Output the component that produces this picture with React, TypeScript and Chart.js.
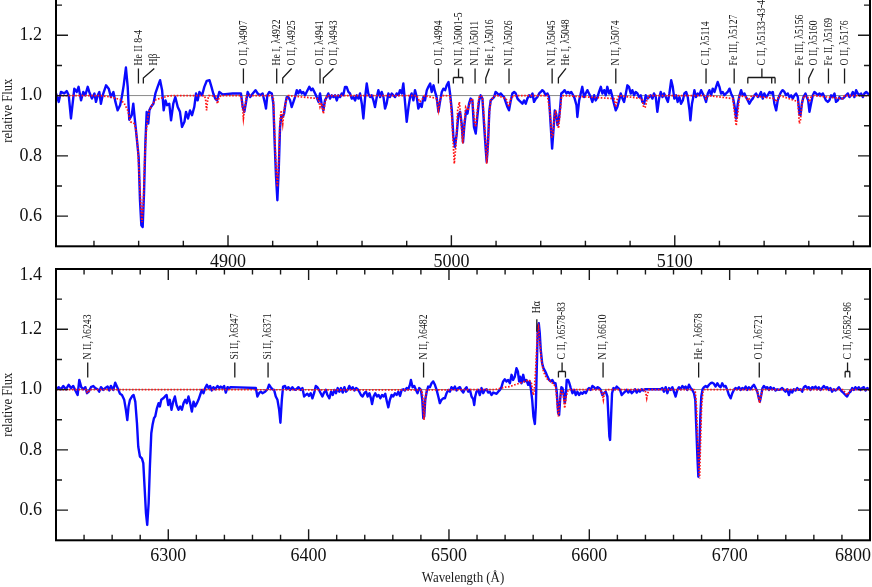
import React, { useEffect, useRef } from "react";
import { Chart, registerables } from "chart.js";

Chart.register(...registerables);

const FONT = '"Liberation Serif", "Times New Roman", serif';

type Pt = [number, number];

// ---------- x / y ranges and tick labels ----------
const topRange: [number, number] = [4823, 5187.4];
const botRange: [number, number] = [6220, 6800];
const fluxRange: [number, number] = [0.5, 1.4];
const topXTicks = [4900, 5000, 5100];
const botXTicks = [6300, 6400, 6500, 6600, 6700, 6800];
const yTicks = [0.6, 0.8, 1.0, 1.2, 1.4];

// ---------- observed spectrum, top panel (wavelength Å, relative flux) ----------
const topObserved: Pt[] = [
  [4823.0, 1.007], [4824.2, 0.979], [4825.2, 1.012], [4826.7, 1.007], [4827.8, 1.015], [4828.7, 1.001],
  [4829.7, 0.924], [4831.2, 1.023], [4832.3, 1.012], [4833.1, 1.029], [4834.2, 0.984], [4835.2, 1.012],
  [4836.1, 1.001], [4837.2, 1.029], [4837.9, 1.012], [4839.1, 0.99], [4840.2, 1.007], [4840.9, 0.979],
  [4841.7, 1.001], [4842.4, 1.012], [4843.1, 0.973], [4843.9, 1.001], [4845.4, 1.034], [4846.6, 1.023],
  [4847.6, 0.995], [4848.7, 1.012], [4849.6, 0.979], [4850.6, 0.951], [4851.7, 0.968], [4852.6, 1.001],
  [4853.3, 1.034], [4854.3, 1.093], [4855.1, 1.029], [4855.8, 0.92], [4856.9, 0.935], [4857.6, 0.973],
  [4858.4, 0.913], [4859.1, 0.863], [4860.0, 0.796], [4860.6, 0.653], [4861.2, 0.57], [4861.8, 0.564],
  [4862.4, 0.675], [4863.0, 0.841], [4863.6, 0.946], [4864.3, 0.907], [4864.8, 0.951], [4865.5, 0.962],
  [4866.6, 0.973], [4867.5, 1.007], [4868.5, 1.029], [4869.6, 1.051], [4870.5, 1.018], [4871.2, 0.951],
  [4872.0, 0.984], [4872.7, 0.968], [4873.7, 0.973], [4874.5, 0.918], [4875.5, 0.973], [4876.4, 0.995],
  [4877.5, 0.962], [4878.5, 0.946], [4879.4, 0.896], [4880.5, 0.913], [4881.2, 0.946], [4882.1, 0.924],
  [4883.0, 0.951], [4883.9, 0.935], [4884.9, 0.962], [4885.7, 1.007], [4886.4, 0.984], [4887.2, 1.012],
  [4888.4, 1.001], [4889.4, 1.029], [4890.5, 1.049], [4891.7, 1.051], [4892.6, 1.029], [4893.4, 1.007],
  [4894.3, 0.99], [4895.1, 0.984], [4896.1, 1.012], [4897.0, 1.007], [4897.6, 1.004], [4902.1, 1.007],
  [4905.8, 1.007], [4906.6, 0.962], [4907.3, 0.946], [4908.1, 0.979], [4908.8, 1.012], [4909.9, 0.995],
  [4911.1, 1.007], [4912.3, 1.018], [4913.3, 1.007], [4914.3, 1.001], [4915.5, 1.007], [4916.6, 0.973],
  [4917.0, 0.957], [4917.6, 1.001], [4918.5, 1.012], [4919.6, 1.007], [4920.3, 0.973], [4920.9, 0.841],
  [4921.5, 0.73], [4922.1, 0.653], [4922.7, 0.752], [4923.3, 0.896], [4923.9, 0.935], [4924.5, 0.929],
  [4925.1, 0.94], [4925.7, 0.973], [4926.3, 0.995], [4927.0, 0.995], [4927.8, 0.984], [4928.5, 0.962],
  [4929.3, 0.979], [4930.0, 0.995], [4930.8, 1.018], [4931.5, 1.007], [4932.2, 1.018], [4933.0, 1.007],
  [4933.7, 1.012], [4934.5, 1.001], [4935.2, 1.012], [4936.4, 1.029], [4937.2, 1.018], [4937.9, 1.023],
  [4939.0, 1.007], [4939.7, 0.995], [4940.5, 0.979], [4941.2, 1.007], [4941.9, 0.973], [4942.7, 0.951],
  [4943.4, 0.984], [4944.2, 0.995], [4944.9, 1.007], [4945.7, 0.99], [4946.4, 1.001], [4947.2, 0.995],
  [4947.9, 1.001], [4948.7, 0.984], [4949.4, 1.001], [4950.2, 0.995], [4950.9, 1.007], [4951.6, 1.001],
  [4952.4, 1.029], [4953.1, 1.029], [4953.9, 1.012], [4954.6, 1.007], [4955.4, 0.99], [4956.1, 0.995],
  [4956.9, 0.984], [4957.6, 1.001], [4958.4, 0.99], [4959.1, 1.007], [4959.9, 0.973], [4960.6, 0.924],
  [4961.4, 0.995], [4962.1, 1.04], [4962.8, 1.007], [4963.6, 0.995], [4964.3, 1.001], [4965.1, 0.984],
  [4965.8, 0.962], [4966.6, 0.995], [4967.3, 1.018], [4968.1, 0.995], [4968.8, 1.012], [4969.6, 0.995],
  [4970.3, 0.957], [4971.0, 0.973], [4971.8, 1.007], [4972.5, 0.995], [4973.3, 1.007], [4974.0, 1.001],
  [4974.8, 0.995], [4975.5, 1.007], [4976.3, 1.001], [4977.0, 1.018], [4977.8, 1.007], [4978.5, 1.04],
  [4979.3, 0.973], [4980.0, 0.913], [4980.8, 0.962], [4981.5, 0.995], [4982.2, 1.007], [4983.0, 0.984],
  [4983.7, 1.018], [4984.5, 0.995], [4985.2, 0.957], [4986.0, 0.973], [4986.7, 0.962], [4987.5, 0.995],
  [4988.2, 0.984], [4989.0, 1.018], [4989.7, 1.029], [4990.5, 1.04], [4991.2, 1.012], [4992.0, 1.034],
  [4992.7, 1.012], [4993.4, 0.995], [4994.2, 0.946], [4994.9, 0.979], [4995.7, 1.012], [4996.4, 1.023],
  [4997.2, 1.018], [4997.9, 1.034], [4998.7, 1.045], [4999.4, 1.007], [5000.2, 0.951], [5000.9, 0.863],
  [5001.6, 0.83], [5002.4, 0.874], [5003.1, 0.935], [5003.9, 0.946], [5004.6, 0.907], [5005.2, 0.845],
  [5005.8, 0.9], [5006.6, 0.951], [5007.2, 0.94], [5007.9, 0.973], [5008.6, 0.99], [5009.4, 0.984],
  [5010.1, 0.896], [5010.9, 0.874], [5011.6, 0.929], [5012.4, 0.984], [5013.1, 1.001], [5013.9, 0.99],
  [5014.6, 0.907], [5015.4, 0.819], [5015.8, 0.78], [5016.4, 0.841], [5017.0, 0.951], [5017.6, 0.984],
  [5018.4, 0.99], [5019.1, 0.995], [5019.8, 1.012], [5020.6, 1.007], [5021.3, 1.001], [5022.1, 1.007],
  [5022.8, 1.001], [5023.6, 0.995], [5024.3, 0.979], [5025.1, 0.962], [5025.8, 0.951], [5026.6, 0.984],
  [5027.3, 1.007], [5028.1, 1.012], [5028.8, 1.007], [5029.6, 0.99], [5030.3, 0.984], [5031.0, 0.979],
  [5031.8, 0.973], [5032.5, 0.984], [5033.3, 0.973], [5034.0, 0.99], [5034.8, 1.001], [5035.5, 0.995],
  [5036.3, 1.007], [5037.0, 0.979], [5037.8, 0.99], [5038.5, 0.995], [5039.3, 1.007], [5040.0, 1.012],
  [5040.7, 1.018], [5041.5, 1.012], [5042.2, 1.001], [5043.0, 1.007], [5043.7, 0.995], [5044.5, 0.896],
  [5045.1, 0.824], [5045.7, 0.885], [5046.3, 0.951], [5046.9, 0.94], [5047.5, 0.902], [5048.1, 0.918],
  [5048.7, 0.962], [5049.2, 1.007], [5050.0, 1.012], [5050.7, 1.018], [5051.5, 1.007], [5052.2, 1.012],
  [5053.0, 1.007], [5053.7, 1.012], [5054.5, 1.001], [5055.2, 0.99], [5056.0, 0.968], [5056.4, 0.929],
  [5057.2, 0.984], [5057.9, 1.007], [5058.6, 1.029], [5059.4, 0.995], [5060.1, 1.007], [5060.9, 1.018],
  [5061.6, 1.007], [5062.4, 0.995], [5063.1, 0.979], [5063.9, 1.001], [5064.6, 0.984], [5065.4, 0.995],
  [5066.1, 1.012], [5066.9, 1.029], [5067.6, 1.007], [5068.4, 1.018], [5069.1, 1.001], [5069.8, 1.029],
  [5070.6, 1.007], [5071.3, 1.018], [5072.1, 0.995], [5072.8, 0.973], [5073.6, 0.951], [5074.3, 0.962],
  [5075.1, 0.984], [5075.8, 1.007], [5076.6, 0.99], [5077.3, 0.979], [5078.1, 1.007], [5078.8, 1.034],
  [5079.5, 1.029], [5080.3, 1.007], [5081.0, 1.018], [5081.8, 1.001], [5082.5, 1.012], [5083.3, 1.007],
  [5084.0, 0.995], [5084.8, 1.001], [5085.5, 0.979], [5086.3, 0.973], [5087.0, 1.001], [5087.8, 0.99],
  [5088.5, 0.995], [5089.2, 1.001], [5090.0, 0.99], [5090.7, 1.007], [5091.5, 0.995], [5092.2, 0.946],
  [5093.0, 0.99], [5093.7, 1.012], [5094.5, 0.995], [5095.2, 1.007], [5096.0, 0.995], [5096.9, 0.979],
  [5097.6, 1.007], [5098.4, 1.051], [5099.1, 1.029], [5099.8, 0.99], [5100.6, 1.001], [5101.3, 0.979],
  [5102.1, 0.995], [5102.8, 0.973], [5103.6, 0.984], [5104.3, 1.007], [5105.1, 1.012], [5105.8, 0.995],
  [5106.6, 0.951], [5107.0, 0.918], [5107.7, 0.973], [5108.3, 0.995], [5108.8, 1.018], [5109.5, 0.995],
  [5110.3, 1.007], [5111.0, 1.001], [5111.8, 1.018], [5112.5, 1.007], [5113.3, 0.995], [5114.0, 0.979],
  [5114.8, 1.007], [5115.5, 1.018], [5116.3, 1.001], [5117.0, 1.023], [5117.8, 1.012], [5118.5, 1.029],
  [5119.2, 1.045], [5120.0, 1.029], [5120.7, 1.007], [5121.5, 1.012], [5122.2, 1.001], [5123.0, 1.007],
  [5123.7, 1.012], [5124.5, 1.023], [5125.2, 1.007], [5126.0, 0.995], [5126.7, 0.968], [5127.5, 0.924],
  [5128.2, 0.973], [5129.0, 1.001], [5129.7, 1.018], [5130.4, 1.001], [5131.2, 1.007], [5131.9, 0.995],
  [5132.7, 0.984], [5133.4, 0.973], [5134.2, 0.984], [5134.9, 0.99], [5135.7, 1.001], [5136.4, 1.007],
  [5137.2, 0.995], [5137.9, 1.001], [5138.6, 1.012], [5139.4, 0.99], [5140.1, 1.007], [5140.9, 0.995],
  [5141.6, 1.001], [5142.4, 1.012], [5143.1, 1.007], [5143.9, 1.012], [5144.6, 0.973], [5145.4, 0.951],
  [5146.1, 0.984], [5146.9, 1.001], [5147.6, 1.012], [5148.3, 1.018], [5149.1, 1.012], [5149.8, 1.001],
  [5150.6, 1.007], [5151.3, 0.995], [5152.1, 1.001], [5152.8, 0.99], [5153.6, 1.001], [5154.3, 1.007],
  [5155.1, 0.995], [5155.8, 0.94], [5156.3, 0.935], [5156.9, 0.973], [5157.6, 0.995], [5158.5, 1.007],
  [5159.1, 0.995], [5159.7, 0.984], [5160.3, 0.946], [5161.0, 0.973], [5161.8, 1.001], [5162.5, 1.012],
  [5163.3, 1.007], [5164.0, 1.001], [5164.8, 1.007], [5165.5, 1.001], [5166.3, 1.007], [5167.0, 0.995],
  [5167.7, 0.984], [5168.5, 0.979], [5169.2, 0.984], [5170.0, 1.001], [5170.7, 0.995], [5171.5, 1.007],
  [5172.2, 0.979], [5173.0, 0.984], [5173.7, 0.995], [5174.5, 0.99], [5175.2, 0.99], [5176.0, 0.995],
  [5176.7, 1.001], [5177.5, 1.007], [5178.2, 0.995], [5179.0, 1.001], [5179.7, 1.012], [5180.4, 0.995],
  [5181.2, 1.018], [5181.9, 1.007], [5182.7, 1.001], [5183.4, 1.007], [5184.2, 0.995], [5184.9, 1.007],
  [5185.7, 1.012], [5186.4, 1.007], [5187.2, 1.001],
];

// ---------- model spectrum, top panel ----------
const topModel: Pt[] = [
  [4823, 1.0], [4843, 1.0], [4847.6, 0.995], [4851.7, 0.987], [4853.5, 0.975], [4855.1, 0.951],
  [4856.4, 0.913], [4858.1, 0.907], [4858.8, 0.885], [4859.6, 0.83], [4860.3, 0.73], [4861.1, 0.62],
  [4861.5, 0.58], [4862.1, 0.642], [4862.7, 0.785], [4863.3, 0.874], [4864.0, 0.924], [4864.8, 0.951],
  [4866.3, 0.973], [4867.8, 0.987], [4869.3, 0.99], [4870.8, 0.993], [4873.0, 0.998], [4875.2, 1.0],
  [4889.5, 1.0], [4890.0, 0.985], [4890.4, 0.951], [4890.9, 0.985], [4891.4, 1.0], [4894.5, 0.998],
  [4895.3, 0.973], [4896.0, 0.995], [4897, 1.0], [4905.9, 1.0], [4906.5, 0.96], [4906.9, 0.924],
  [4907.5, 0.96], [4908.3, 1.0], [4919.6, 1.0], [4920.3, 0.99], [4920.9, 0.87], [4921.5, 0.76],
  [4922.1, 0.697], [4922.7, 0.78], [4923.3, 0.92], [4923.8, 0.951], [4924.5, 0.906], [4925.1, 0.95],
  [4925.7, 0.975], [4927.0, 1.0], [4940.4, 0.99], [4941.2, 0.962], [4941.9, 0.975], [4942.7, 0.94],
  [4943.4, 0.975], [4944.2, 1.0], [4984.5, 1.0], [4985.8, 0.979], [4987.2, 0.99], [4988, 1.0],
  [4993.4, 0.99], [4994.2, 0.951], [4995.0, 0.99], [4996, 1.0], [4999.4, 0.999], [5000.2, 0.924],
  [5000.9, 0.83], [5001.3, 0.774], [5002.1, 0.841], [5002.8, 0.951], [5003.6, 0.979], [5004.4, 0.907],
  [5005.1, 0.841], [5005.7, 0.9], [5006.4, 0.962], [5007.4, 0.95], [5008.6, 0.984], [5009.4, 0.99],
  [5010.4, 0.907], [5010.9, 0.896], [5011.6, 0.951], [5012.4, 0.995], [5013.1, 1.0], [5013.9, 0.995],
  [5014.6, 0.929], [5015.4, 0.841], [5015.8, 0.774], [5016.4, 0.83], [5017.0, 0.94], [5017.6, 0.984],
  [5019.1, 0.998], [5020.6, 1.0], [5024.5, 0.99], [5025.8, 0.962], [5026.6, 0.99], [5028, 1.0],
  [5043.0, 1.0], [5044.2, 0.94], [5044.9, 0.863], [5045.4, 0.863], [5046.0, 0.929], [5046.7, 0.951],
  [5047.5, 0.907], [5048.0, 0.891], [5048.6, 0.94], [5049.3, 0.995], [5050, 1.0], [5072.8, 0.99],
  [5073.6, 0.962], [5074.3, 0.99], [5075, 1.0], [5085.3, 0.99], [5086.1, 0.96], [5086.8, 0.962],
  [5087.5, 0.984], [5088.5, 1.0], [5113.2, 1.0], [5114.0, 0.99], [5115, 1.0], [5126.0, 0.99],
  [5126.8, 0.94], [5127.5, 0.9], [5128.2, 0.94], [5129, 1.0], [5132.0, 0.995], [5132.7, 0.984],
  [5133.4, 0.99], [5134.5, 1.0], [5144.6, 0.99], [5145.4, 0.979], [5146.1, 0.99], [5147, 1.0],
  [5155.1, 0.98], [5155.8, 0.907], [5156.3, 0.92], [5157.0, 0.98], [5158, 1.0], [5159.5, 0.995],
  [5160.3, 0.979], [5161.0, 0.995], [5162, 1.0], [5175.2, 0.99], [5176, 1.0], [5188, 1.0],
];

// ---------- observed spectrum, bottom panel ----------
const botObserved: Pt[] = [
  [6220.0, 0.999], [6221.9, 1.008], [6223.6, 1.001], [6225.2, 1.012], [6227.1, 1.001], [6229.0, 1.016],
  [6230.7, 1.005], [6232.3, 1.012], [6233.8, 0.997], [6235.4, 0.982], [6236.6, 1.032], [6238.0, 1.008],
  [6239.5, 1.001], [6240.9, 1.008], [6242.1, 0.988], [6243.3, 0.993], [6244.9, 1.008], [6246.6, 1.012],
  [6248.0, 1.005], [6249.7, 1.001], [6250.8, 0.993], [6252.0, 1.008], [6253.7, 0.999], [6255.1, 1.005],
  [6256.8, 1.01], [6258.0, 0.997], [6259.1, 1.012], [6260.8, 0.999], [6262.2, 1.023], [6263.9, 1.005],
  [6265.6, 0.986], [6267.0, 0.982], [6268.6, 0.966], [6269.8, 0.933], [6270.8, 0.899], [6271.7, 0.944],
  [6272.7, 0.966], [6274.1, 0.977], [6275.3, 0.982], [6276.5, 0.96], [6277.7, 0.888], [6278.6, 0.811],
  [6279.8, 0.778], [6281.2, 0.772], [6282.2, 0.756], [6283.1, 0.678], [6284.1, 0.59], [6285.0, 0.551],
  [6286.0, 0.623], [6286.9, 0.745], [6287.9, 0.855], [6288.8, 0.883], [6289.8, 0.905], [6290.7, 0.911],
  [6291.9, 0.938], [6293.1, 0.955], [6294.0, 0.944], [6295.0, 0.966], [6296.4, 0.971], [6297.6, 0.977],
  [6298.8, 0.982], [6300.0, 0.949], [6301.1, 0.966], [6302.3, 0.933], [6303.5, 0.96], [6304.7, 0.977],
  [6305.9, 0.949], [6307.3, 0.933], [6308.5, 0.944], [6309.7, 0.933], [6310.9, 0.955], [6312.1, 0.966],
  [6313.2, 0.955], [6314.4, 0.977], [6315.6, 0.955], [6316.8, 0.927], [6318.0, 0.96], [6319.2, 0.944],
  [6320.4, 0.955], [6321.5, 0.966], [6322.7, 0.982], [6323.9, 0.999], [6325.1, 0.988], [6326.3, 1.005],
  [6327.5, 1.016], [6328.7, 1.005], [6329.8, 1.012], [6331.0, 0.997], [6332.2, 1.008], [6333.4, 1.001],
  [6335.1, 1.012], [6336.3, 1.005], [6337.4, 1.01], [6338.6, 1.005], [6339.8, 1.012], [6341.0, 0.99],
  [6342.2, 1.008], [6343.4, 1.005], [6344.6, 1.008], [6362.4, 1.005], [6363.5, 0.977], [6364.7, 0.988],
  [6365.9, 0.993], [6367.1, 0.988], [6369.0, 0.993], [6370.7, 1.001], [6371.8, 1.016], [6373.0, 1.008],
  [6374.2, 1.001], [6375.4, 0.999], [6376.6, 0.977], [6377.8, 0.966], [6379.0, 0.933], [6379.9, 0.89],
  [6380.9, 0.966], [6381.8, 1.01], [6383.2, 1.012], [6384.2, 1.001], [6385.6, 1.008], [6386.8, 0.999],
  [6388.4, 1.008], [6389.6, 1.001], [6390.8, 0.999], [6392.7, 1.008], [6394.4, 0.999], [6395.6, 1.005],
  [6396.8, 0.977], [6397.9, 0.982], [6399.1, 0.986], [6400.3, 0.979], [6401.5, 0.988], [6402.7, 0.971],
  [6403.9, 0.988], [6405.1, 1.012], [6406.2, 1.008], [6407.4, 0.999], [6408.6, 0.988], [6409.8, 0.977],
  [6411.0, 0.99], [6412.2, 0.999], [6413.4, 0.982], [6414.8, 0.971], [6416.0, 0.993], [6417.2, 0.982],
  [6418.3, 0.999], [6419.5, 0.988], [6420.7, 1.005], [6421.9, 0.993], [6423.1, 1.005], [6424.3, 0.99],
  [6425.5, 1.008], [6426.6, 0.993], [6427.8, 0.999], [6429.0, 1.012], [6430.2, 1.001], [6431.4, 1.008],
  [6432.6, 0.997], [6433.8, 1.005], [6435.0, 1.001], [6436.1, 0.993], [6437.3, 0.982], [6438.5, 0.977],
  [6439.7, 0.988], [6440.9, 0.993], [6442.1, 0.977], [6443.3, 0.988], [6444.4, 0.971], [6445.2, 0.952],
  [6446.3, 0.977], [6447.5, 0.988], [6448.7, 0.977], [6449.9, 0.982], [6451.1, 0.971], [6452.3, 0.982],
  [6453.5, 0.977], [6454.6, 0.986], [6455.8, 0.96], [6456.8, 0.941], [6457.9, 0.966], [6459.1, 0.982],
  [6460.3, 0.977], [6461.5, 0.988], [6462.7, 0.982], [6463.9, 0.993], [6465.1, 0.979], [6466.3, 0.999],
  [6467.5, 1.001], [6468.6, 0.997], [6469.8, 1.005], [6471.0, 1.001], [6472.2, 1.016], [6472.9, 1.032],
  [6474.1, 1.008], [6475.3, 1.012], [6476.5, 0.999], [6477.6, 0.988], [6478.8, 1.005], [6480.0, 0.999],
  [6481.0, 0.966], [6481.7, 0.905], [6482.4, 0.911], [6483.1, 0.966], [6484.1, 0.993], [6485.2, 1.01],
  [6486.4, 1.008], [6487.6, 1.021], [6488.8, 1.027], [6490.0, 1.016], [6491.2, 0.999], [6492.4, 0.977],
  [6493.5, 0.955], [6494.7, 0.966], [6495.9, 0.971], [6497.1, 0.971], [6498.3, 0.988], [6499.5, 0.999],
  [6500.7, 0.993], [6501.8, 1.008], [6503.0, 1.001], [6504.2, 1.01], [6505.4, 0.997], [6506.6, 1.005],
  [6507.8, 1.008], [6509.0, 0.997], [6510.2, 0.99], [6511.3, 1.001], [6512.5, 1.008], [6513.7, 0.993],
  [6514.9, 0.999], [6516.1, 0.977], [6517.3, 0.968], [6518.0, 0.949], [6518.7, 0.977], [6519.6, 0.993],
  [6520.8, 0.999], [6522.0, 0.982], [6523.2, 1.005], [6524.4, 0.988], [6525.6, 0.999], [6526.8, 1.001],
  [6527.9, 0.99], [6529.1, 0.993], [6530.3, 0.982], [6531.5, 0.99], [6532.7, 0.988], [6533.9, 0.986],
  [6535.1, 0.993], [6536.3, 0.999], [6537.4, 1.008], [6538.6, 1.027], [6539.8, 1.034], [6541.0, 1.027],
  [6542.2, 1.032], [6543.4, 1.021], [6544.6, 1.049], [6545.7, 1.032], [6546.9, 1.043], [6548.1, 1.071],
  [6549.1, 1.06], [6550.0, 1.027], [6550.7, 1.043], [6551.7, 1.021], [6552.9, 1.049], [6554.0, 1.027],
  [6555.2, 1.032], [6556.4, 1.016], [6557.4, 1.027], [6558.3, 1.005], [6559.3, 0.966], [6560.2, 0.911],
  [6561.2, 0.886], [6561.9, 0.944], [6562.6, 1.076], [6563.3, 1.209], [6564.0, 1.22], [6564.7, 1.187],
  [6565.4, 1.132], [6566.4, 1.087], [6567.3, 1.071], [6568.3, 1.063], [6569.2, 1.054], [6570.2, 1.043],
  [6571.4, 1.032], [6572.5, 1.027], [6573.7, 1.032], [6574.9, 1.021], [6575.9, 1.021], [6576.8, 0.993],
  [6577.8, 0.922], [6578.5, 0.916], [6579.2, 0.966], [6580.1, 1.008], [6580.9, 1.005], [6581.6, 0.988],
  [6582.5, 0.955], [6583.2, 0.977], [6583.9, 1.032], [6584.9, 1.032], [6585.8, 1.021], [6586.8, 1.005],
  [6588.0, 0.988], [6589.2, 0.999], [6590.3, 0.982], [6591.5, 0.993], [6592.7, 0.982], [6593.9, 0.99],
  [6595.1, 0.986], [6596.3, 0.993], [6597.5, 0.988], [6598.6, 0.999], [6599.8, 1.005], [6601.0, 0.999],
  [6602.2, 1.012], [6603.4, 1.008], [6604.6, 1.001], [6605.8, 1.008], [6607.0, 1.005], [6608.1, 0.999],
  [6609.3, 0.982], [6610.5, 0.988], [6611.7, 0.993], [6612.9, 0.977], [6613.6, 0.911], [6614.3, 0.844],
  [6614.8, 0.833], [6615.5, 0.911], [6616.2, 0.988], [6617.2, 1.005], [6618.3, 1.001], [6619.5, 1.01],
  [6620.7, 1.005], [6621.9, 0.999], [6623.1, 0.982], [6624.3, 0.988], [6625.5, 0.993], [6626.6, 0.999],
  [6627.8, 0.99], [6629.0, 0.997], [6630.2, 0.988], [6631.4, 0.993], [6632.6, 1.001], [6633.8, 0.99],
  [6635.0, 0.999], [6636.1, 0.993], [6637.3, 1.001], [6638.5, 0.997], [6639.7, 1.001], [6650.8, 1.001],
  [6652.0, 1.005], [6653.2, 0.993], [6654.4, 1.008], [6655.6, 0.988], [6656.8, 1.005], [6658.0, 0.999],
  [6659.2, 1.008], [6660.3, 0.993], [6661.5, 0.977], [6662.7, 0.999], [6663.9, 1.008], [6665.1, 1.001],
  [6666.3, 1.012], [6667.5, 1.005], [6668.6, 1.01], [6669.8, 0.999], [6671.0, 1.016], [6672.2, 1.005],
  [6673.4, 0.999], [6674.6, 0.988], [6675.5, 0.966], [6676.2, 0.878], [6677.0, 0.778], [6677.7, 0.711],
  [6678.4, 0.8], [6679.1, 0.911], [6679.8, 0.977], [6680.7, 1.001], [6681.7, 1.008], [6682.9, 1.012],
  [6684.1, 1.008], [6685.3, 1.016], [6686.4, 1.021], [6687.6, 1.023], [6688.8, 1.019], [6690.0, 1.01],
  [6691.2, 1.021], [6692.4, 1.012], [6693.6, 1.008], [6694.7, 1.021], [6695.9, 1.01], [6697.1, 1.012],
  [6698.3, 0.999], [6699.5, 0.982], [6700.7, 0.971], [6701.9, 0.988], [6703.0, 0.999], [6704.2, 1.005],
  [6705.4, 1.001], [6706.6, 1.008], [6707.8, 0.999], [6709.0, 1.005], [6710.2, 1.001], [6711.4, 1.01],
  [6712.5, 0.999], [6713.7, 1.008], [6714.9, 1.001], [6716.1, 1.01], [6717.3, 1.016], [6718.5, 1.005],
  [6719.7, 0.993], [6720.8, 0.971], [6721.5, 0.96], [6722.5, 0.982], [6723.4, 1.005], [6724.4, 1.012],
  [6725.6, 1.005], [6726.8, 1.008], [6728.0, 0.999], [6729.1, 1.008], [6730.3, 1.001], [6731.5, 1.005],
  [6732.7, 0.997], [6733.9, 1.001], [6735.1, 0.999], [6736.3, 1.001], [6737.4, 1.005], [6738.6, 0.999],
  [6739.8, 0.993], [6741.0, 1.001], [6742.2, 0.982], [6743.4, 0.999], [6744.6, 0.99], [6745.7, 1.001],
  [6746.9, 0.997], [6748.1, 1.005], [6749.3, 0.999], [6750.5, 1.001], [6751.7, 0.993], [6752.9, 1.008],
  [6754.0, 1.012], [6755.2, 1.005], [6756.4, 1.008], [6757.6, 0.999], [6758.8, 1.008], [6760.0, 1.005],
  [6761.2, 1.01], [6762.4, 1.001], [6763.5, 1.008], [6764.7, 0.999], [6765.9, 1.005], [6767.1, 1.012],
  [6768.3, 1.005], [6769.5, 1.008], [6770.7, 0.999], [6771.8, 1.005], [6773.0, 0.993], [6774.2, 1.001],
  [6775.4, 0.997], [6776.6, 1.001], [6777.8, 1.008], [6779.0, 0.999], [6780.1, 0.993], [6781.3, 0.988],
  [6782.5, 0.982], [6783.7, 0.977], [6784.9, 0.988], [6786.1, 0.993], [6787.3, 1.005], [6788.5, 0.999],
  [6789.6, 1.008], [6790.8, 1.001], [6792.0, 1.008], [6793.2, 0.999], [6794.4, 1.005], [6795.6, 1.008],
  [6796.8, 0.997], [6798.0, 1.005], [6799.1, 1.001], [6800.3, 1.005],
];

// ---------- model spectrum, bottom panel ----------
const botModel: Pt[] = [
  [6220, 1.0], [6241.5, 1.0], [6242.3, 0.99], [6243.0, 0.99], [6244, 1.0], [6480.5, 0.999],
  [6481.3, 0.977], [6482.2, 0.899], [6483.1, 0.966], [6484.0, 0.999], [6533.0, 1.0], [6537.4, 1.005],
  [6540.0, 1.008], [6543.4, 1.01], [6546.9, 1.016], [6550.4, 1.021], [6553.8, 1.027], [6557.1, 1.032],
  [6558.8, 1.021], [6560.0, 0.982], [6560.7, 0.988], [6561.9, 1.076], [6563.1, 1.198], [6563.8, 1.209],
  [6564.7, 1.154], [6565.9, 1.098], [6567.1, 1.065], [6568.3, 1.049], [6570.2, 1.034], [6572.5, 1.027],
  [6574.9, 1.016], [6576.1, 1.008], [6577.3, 0.944], [6578.0, 0.911], [6579.0, 0.966], [6580.1, 1.001],
  [6581.3, 0.988], [6582.5, 0.938], [6583.5, 0.977], [6584.9, 0.999], [6586, 1.0], [6608.1, 1.0],
  [6609.3, 0.985], [6610.0, 0.966], [6610.8, 0.99], [6612, 1.0], [6639.7, 1.0], [6640.4, 0.985],
  [6640.9, 0.971], [6641.5, 0.985], [6642.5, 1.0], [6674.6, 1.0], [6675.5, 0.993], [6676.4, 0.944],
  [6677.2, 0.833], [6678.2, 0.722], [6678.6, 0.705], [6679.3, 0.833], [6680.0, 0.944], [6681.0, 0.993],
  [6682, 1.0], [6719.5, 1.0], [6720.1, 0.988], [6721.3, 0.955], [6722.5, 0.982], [6723.5, 1.0],
  [6781.0, 1.0], [6782.5, 0.988], [6783.7, 0.982], [6784.9, 0.99], [6786, 1.0], [6801, 1.0],
];

// ---------- line identifications ----------
type Mark = {
  text: string;
  kind: "tick" | "slant" | "bracket";
  at?: number; // line position
  tx?: number; // text position
  legs?: number[]; // bracket legs
  y0?: number; // bottom of marker
  y1?: number; // top of marker
  yt?: number; // text start
};

const topMarks: Mark[] = [
  { text: "He II 8-4", kind: "tick", at: 4859.9 },
  { text: "Hβ", kind: "slant", at: 4862.1, tx: 4867.0 },
  { text: "O II, λ4907", kind: "tick", at: 4906.9 },
  { text: "He I, λ4922", kind: "tick", at: 4921.8 },
  { text: "O II, λ4925", kind: "slant", at: 4924.5, tx: 4928.5 },
  { text: "O II, λ4941", kind: "tick", at: 4941.2 },
  { text: "O II, λ4943", kind: "slant", at: 4942.7, tx: 4947.2 },
  { text: "O II, λ4994", kind: "tick", at: 4994.2 },
  { text: "N II, λ5001-5", kind: "bracket", legs: [5000.9, 5005.1], tx: 5003.2 },
  { text: "N II, λ5011", kind: "tick", at: 5010.6 },
  { text: "He I, λ5016", kind: "slant", at: 5015.4, tx: 5017.0 },
  { text: "N II, λ5026", kind: "tick", at: 5025.8 },
  { text: "N II, λ5045", kind: "tick", at: 5045.1 },
  { text: "He I, λ5048", kind: "slant", at: 5047.9, tx: 5051.3 },
  { text: "N II, λ5074", kind: "tick", at: 5073.6 },
  { text: "C II, λ5114", kind: "tick", at: 5114.0 },
  { text: "Fe III, λ5127", kind: "tick", at: 5126.6 },
  { text: "C II, λ5133-43-45", kind: "bracket", legs: [5132.7, 5143.4, 5144.9], tx: 5139.0 },
  { text: "Fe III, λ5156", kind: "tick", at: 5155.8 },
  { text: "O II, λ5160", kind: "slant", at: 5160.0, tx: 5162.1 },
  { text: "Fe II, λ5169", kind: "tick", at: 5168.8 },
  { text: "O II, λ5176", kind: "tick", at: 5176.0 },
];

const botMarks: Mark[] = [
  { text: "N II, λ6243", kind: "tick", at: 6242.6 },
  { text: "Si II, λ6347", kind: "tick", at: 6347.4 },
  { text: "Si II, λ6371", kind: "tick", at: 6371.1 },
  { text: "N II, λ6482", kind: "tick", at: 6481.9 },
  { text: "Hα", kind: "tick", at: 6562.6, y0: 1.192, y1: 1.233, yt: 1.253 },
  { text: "C II, λ6578-83", kind: "bracket", legs: [6578.0, 6583.0], tx: 6580.6 },
  { text: "N II, λ6610", kind: "tick", at: 6609.8 },
  { text: "He I, λ6678", kind: "tick", at: 6677.9 },
  { text: "O II, λ6721", kind: "tick", at: 6721.1 },
  { text: "C II, λ6582-86", kind: "bracket", legs: [6782.3, 6785.6], tx: 6784.0 },
];

// ---------- drawing helpers ----------
function rotatedText(ctx: CanvasRenderingContext2D, text: string, x: number, y: number, size: number, sx: number, align: CanvasTextAlign) {
  ctx.save();
  ctx.translate(x, y);
  ctx.rotate(-Math.PI / 2);
  ctx.scale(sx, 1);
  ctx.font = `${size}px ${FONT}`;
  ctx.textAlign = align;
  ctx.textBaseline = "middle";
  ctx.fillText(text, 0, 0);
  ctx.restore();
}

function panelPlugin(opts: { xLabels: number[]; marks: Mark[]; xTitle: boolean }) {
  return {
    id: "panelDecor",
    afterDraw(chart: any) {
      const ctx: CanvasRenderingContext2D = chart.ctx;
      const a = chart.chartArea;
      const xs = chart.scales.x;
      const ys = chart.scales.y;
      const X = (v: number) => xs.getPixelForValue(v);
      const Y = (v: number) => ys.getPixelForValue(v);
      ctx.save();

      // tick marks (inward, all four sides)
      ctx.strokeStyle = "#1a1a1a";
      ctx.lineWidth = 1.4;
      ctx.beginPath();
      const xStep = 20;
      for (let i = Math.ceil(xs.min / xStep); i * xStep <= xs.max; i++) {
        const px = X(i * xStep);
        const len = i % 5 === 0 ? 11 : 5.5;
        ctx.moveTo(px, a.bottom); ctx.lineTo(px, a.bottom - len);
        ctx.moveTo(px, a.top); ctx.lineTo(px, a.top + len);
      }
      for (let i = 6; i <= 13; i++) {
        const py = Y(i / 10);
        const len = i % 2 === 0 ? 12 : 6;
        ctx.moveTo(a.left, py); ctx.lineTo(a.left + len, py);
        ctx.moveTo(a.right, py); ctx.lineTo(a.right - len, py);
      }
      ctx.stroke();

      // frame
      ctx.strokeStyle = "#000";
      ctx.lineWidth = 2;
      ctx.strokeRect(a.left, a.top, a.right - a.left, a.bottom - a.top);

      // tick labels
      ctx.fillStyle = "#111";
      ctx.font = `18px ${FONT}`;
      ctx.textAlign = "center";
      ctx.textBaseline = "middle";
      for (const v of opts.xLabels) {
        const t = String(v);
        const w = ctx.measureText(t).width;
        const px = Math.min(X(v), a.right + 1 - w / 2);
        ctx.fillText(t, px, a.bottom + 15.5);
      }
      ctx.textAlign = "right";
      for (const v of yTicks) {
        let py = Y(v);
        if (py < a.top + 6) py = a.top + 6;
        ctx.fillText(v.toFixed(1), a.left - 14, py);
      }

      // axis titles
      ctx.fillStyle = "#1a1a1a";
      rotatedText(ctx, "relative Flux", 8, (a.top + a.bottom) / 2, 14, 0.9, "center");
      if (opts.xTitle) {
        ctx.save();
        ctx.translate((a.left + a.right) / 2, a.bottom + 37.5);
        ctx.scale(0.86, 1);
        ctx.font = `15px ${FONT}`;
        ctx.textAlign = "center";
        ctx.textBaseline = "middle";
        ctx.fillText("Wavelength (Å)", 0, 0);
        ctx.restore();
      }

      // line identifications
      ctx.strokeStyle = "#1a1a1a";
      ctx.fillStyle = "#1a1a1a";
      ctx.lineWidth = 1.3;
      for (const m of opts.marks) {
        const y0 = Y(m.y0 ?? 1.04);
        const y1 = Y(m.y1 ?? 1.09);
        const yt = Y(m.yt ?? 1.1);
        const yb = Y(1.06);
        const yk = Y(1.058);
        ctx.beginPath();
        let tx: number;
        if (m.kind === "tick") {
          tx = X(m.tx ?? m.at!);
          ctx.moveTo(X(m.at!), y0); ctx.lineTo(X(m.at!), y1);
        } else if (m.kind === "slant") {
          tx = X(m.tx!);
          const bx = X(m.at!);
          ctx.moveTo(bx, y0); ctx.lineTo(bx, yk); ctx.lineTo(tx, y1);
        } else {
          tx = X(m.tx!);
          const legs = m.legs!.map(X);
          for (const lx of legs) { ctx.moveTo(lx, y0); ctx.lineTo(lx, yb); }
          ctx.moveTo(Math.min(...legs), yb); ctx.lineTo(Math.max(...legs), yb);
          ctx.moveTo(tx, yb); ctx.lineTo(tx, y1);
        }
        ctx.stroke();
        rotatedText(ctx, m.text, tx, yt, 12, 0.81, "left");
      }
      ctx.restore();
    },
  };
}

function makeChart(canvas: HTMLCanvasElement, range: [number, number], observed: Pt[], model: Pt[], xLabels: number[], marks: Mark[], padBottom: number, xTitle: boolean) {
  return new Chart(canvas, {
    type: "line",
    data: {
      datasets: [
        {
          data: model.map(([x, y]) => ({ x, y })),
          borderColor: "#ff1414",
          borderWidth: 1.7,
          borderDash: [1.6, 1.6],
          pointRadius: 0,
          order: 0,
        },
        {
          data: observed.map(([x, y]) => ({ x, y })),
          borderColor: "#0a0aff",
          borderWidth: 2.4,
          borderJoinStyle: "round",
          pointRadius: 0,
          order: 1,
        },
        {
          data: [{ x: range[0], y: 1 }, { x: range[1], y: 1 }],
          borderColor: "#8a8a8a",
          borderWidth: 1,
          pointRadius: 0,
          order: 2,
        },
      ],
    },
    options: {
      animation: false,
      responsive: false,
      maintainAspectRatio: false,
      events: [],
      layout: { padding: { left: 56, right: 2, top: 10, bottom: padBottom } },
      plugins: { legend: { display: false }, tooltip: { enabled: false } },
      elements: { line: { tension: 0 }, point: { radius: 0 } },
      scales: {
        x: { type: "linear", min: range[0], max: range[1], display: false },
        y: { type: "linear", min: fluxRange[0], max: fluxRange[1], display: false },
      },
    },
    plugins: [panelPlugin({ xLabels, marks, xTitle })],
  } as any);
}

export default function App() {
  const topRef = useRef<HTMLCanvasElement>(null);
  const botRef = useRef<HTMLCanvasElement>(null);

  useEffect(() => {
    const c1 = makeChart(topRef.current!, topRange, topObserved, topModel, topXTicks, topMarks, 28.7, false);
    const c2 = makeChart(botRef.current!, botRange, botObserved, botModel, botXTicks, botMarks, 46.7, true);
    return () => {
      c1.destroy();
      c2.destroy();
    };
  }, []);

  return (
    <div style={{ position: "absolute", left: 0, top: 0, width: 872, height: 587, overflow: "hidden", background: "#fff" }}>
      <canvas ref={topRef} width={872} height={310} style={{ position: "absolute", left: 0, top: -35, width: 872, height: 310 }} />
      <canvas ref={botRef} width={872} height={328} style={{ position: "absolute", left: 0, top: 259, width: 872, height: 328 }} />
    </div>
  );
}
